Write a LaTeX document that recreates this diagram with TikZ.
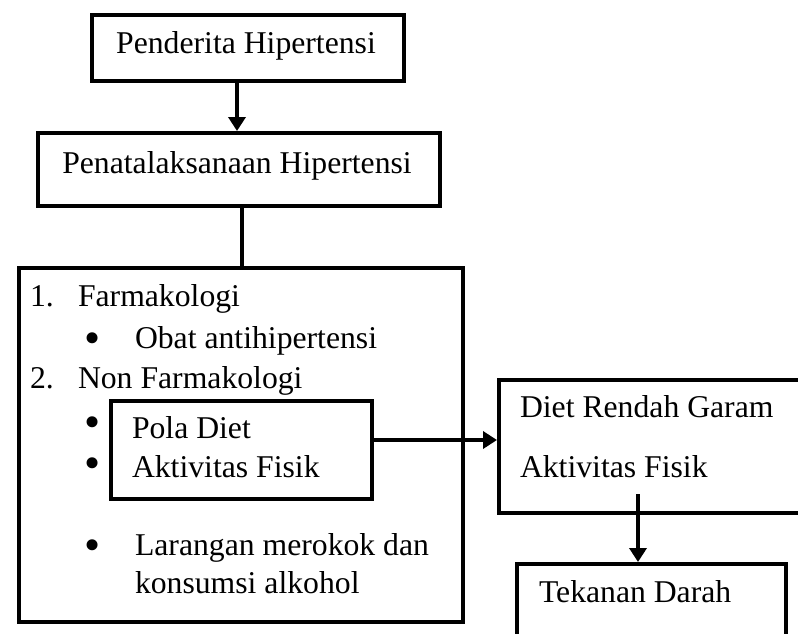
\documentclass[tikz,border=0pt]{standalone}
\usepackage{fontspec}
\setmainfont{Liberation Serif}
\usetikzlibrary{arrows.meta}
\begin{document}
\begin{tikzpicture}[x=1pt,y=-1pt,line width=4pt,
  box/.style={draw,line width=4pt,inner sep=0pt,anchor=north west,fill=white},
  txt/.style={anchor=base west,inner sep=0pt,font=\fontsize{31.7}{38}\selectfont},
  ctxt/.style={anchor=base,inner sep=0pt,font=\fontsize{31.7}{38}\selectfont},
  dot/.style={anchor=base west,inner sep=0pt,text height=20pt,text depth=-10pt,font=\fontsize{46}{50}\selectfont},
  arr/.style={-{Triangle[length=14pt,width=17pt]},line width=4pt}]
\useasboundingbox (0,0) rectangle (798,633);
\clip (0,0) rectangle (798,633);
% boxes
\node[box,minimum width=312pt,minimum height=66pt] (b1) at (90,13) {};
\node[box,minimum width=402pt,minimum height=73pt] (b2) at (36,131) {};
\node[box,minimum width=444pt,minimum height=354pt] (big) at (17,266) {};
\node[box,minimum width=261pt,minimum height=98pt] (ib) at (109,399) {};
\node[box,minimum width=340pt,minimum height=133pt] (rb) at (497,378) {};
\node[box,minimum width=269pt,minimum height=110pt] (bb) at (515,562) {};
% texts
\node[ctxt] (t1) at (246,53) {Penderita Hipertensi};
\node[ctxt] (t2) at (237,173) {Penatalaksanaan Hipertensi};
\node[txt] (n1) at (28,306) {1.};
\node[txt] (l1) at (76,306) {Farmakologi};
\node[dot] (d1) at (82,353) {•};
\node[txt] (l2) at (133,348) {Obat antihipertensi};
\node[txt] (n2) at (28,388) {2.};
\node[txt] (l3) at (76,388) {Non Farmakologi};
\node[dot] (d2) at (82,437) {•};
\node[dot] (d3) at (82,478) {•};
\node[txt] (l4) at (130,438) {Pola Diet};
\node[txt] (l5) at (130,477) {Aktivitas Fisik};
\node[dot] (d4) at (82,560) {•};
\node[txt] (l6) at (133,555) {Larangan merokok dan};
\node[txt] (l7) at (133,593) {konsumsi alkohol};
\node[txt] (r1) at (518,417) {Diet Rendah Garam};
\node[txt] (r2) at (518,477) {Aktivitas Fisik};
\node[txt] (r3) at (537,602) {Tekanan Darah};
% connectors
\draw[arr] ([xshift=-11pt]b1.south) -- ([xshift=-11pt]b1.south |- b2.north);
\draw ([xshift=3pt]b2.south) -- ([xshift=3pt]b2.south |- big.north);
\draw[arr] ([yshift=10pt]ib.east) -- ([yshift=10pt]ib.east -| rb.west);
\coordinate (s) at (638,494);
\draw[arr] (s) -- (s |- bb.north);
\end{tikzpicture}
\end{document}
